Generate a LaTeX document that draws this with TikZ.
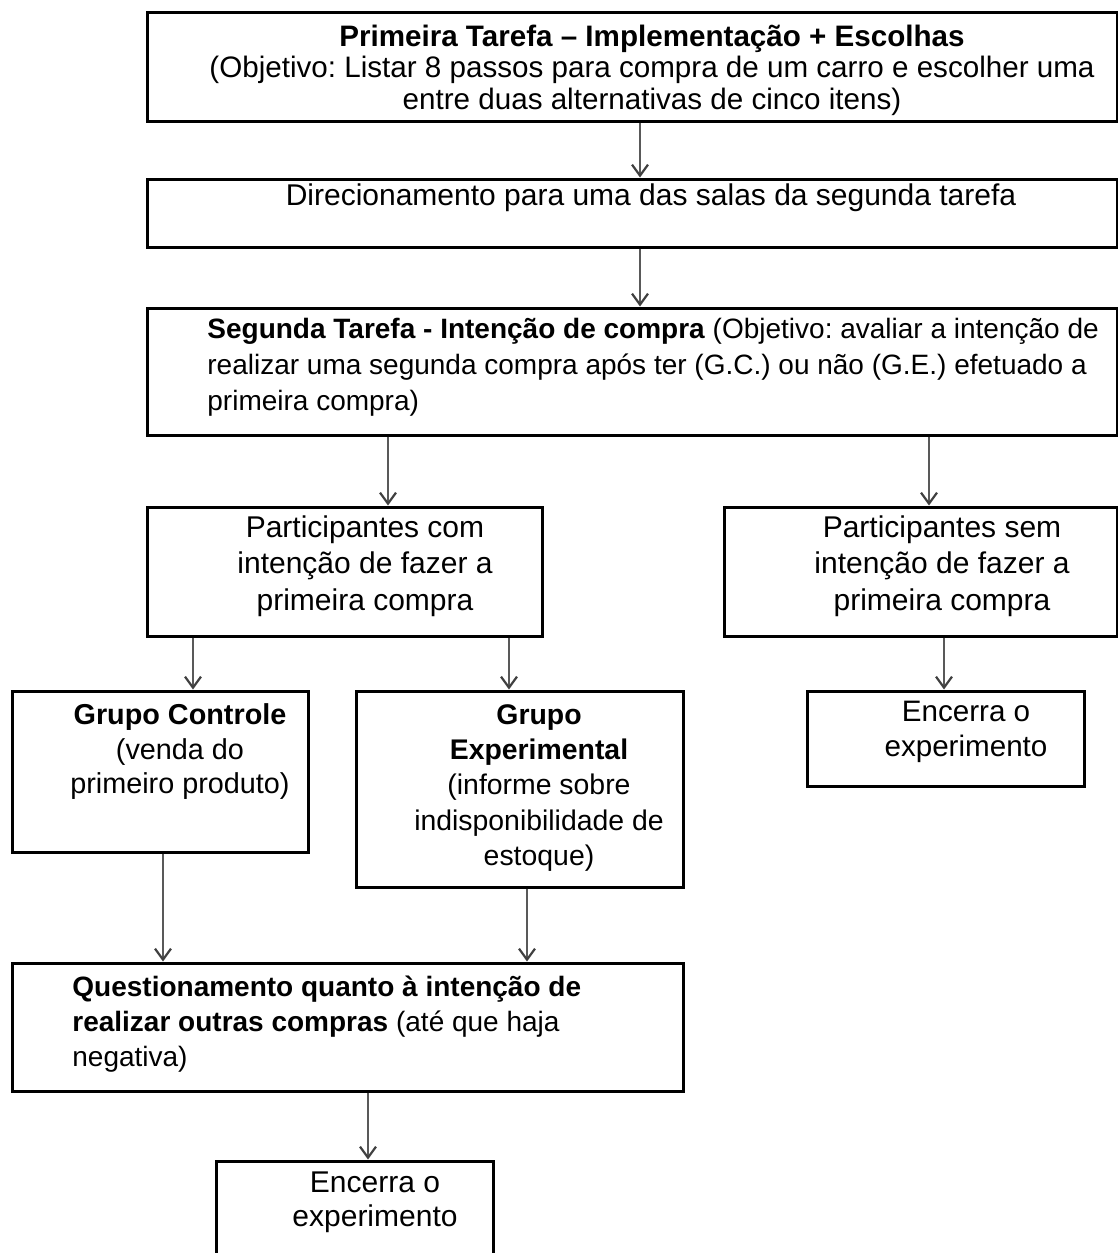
\documentclass[tikz,border=0pt]{standalone}
\usepackage{fontspec}
\setmainfont{Liberation Sans}
\usetikzlibrary{fit,arrows.meta}
\frenchspacing
\begin{document}
\begin{tikzpicture}[x=0.5pt,y=-0.5pt,
  box/.style={draw=black,line width=1.5pt,inner sep=0pt},
  txt/.style={inner sep=0pt},
  arr/.style={draw=black!65,line width=1pt,-{Straight Barb[length=5.5pt,width=8pt,line width=1.1pt,black!75]}}]
\useasboundingbox (0,0) rectangle (1118,1253);
% boxes
\node[box,fit={(147,12)(1117,121)}] (b1) {};
\node[box,fit={(147,179)(1117,247)}] (b2) {};
\node[box,fit={(147,308)(1117,435)}] (b3) {};
\node[box,fit={(147,507)(542,636)}] (b4) {};
\node[box,fit={(724,507)(1117,636)}] (b5) {};
\node[box,fit={(12,691)(308,852)}] (b6) {};
\node[box,fit={(356,691)(683,887)}] (b7) {};
\node[box,fit={(807,691)(1084,786)}] (b8) {};
\node[box,fit={(12,963)(683,1091)}] (b9) {};
\node[box,fit={(216,1161)(493,1262)}] (b10) {};
% texts
\node[txt,align=center,font=\fontsize{14.8}{15.75}\selectfont] (t1) at (652,70)
  {\textbf{Primeira Tarefa – Implementação + Escolhas}\\(Objetivo: Listar 8 passos para compra de um carro e escolher uma\\entre duas alternativas de cinco itens)};
\node[txt,font=\fontsize{15}{15.75}\selectfont] (t2) at (651,198)
  {Direcionamento para uma das salas da segunda tarefa};
\node[txt,align=left,anchor=west,font=\fontsize{14}{18}\selectfont] (t3) at (207,367)
  {\textbf{Segunda Tarefa - Intenção de compra} (Objetivo: avaliar a intenção de\\realizar uma segunda compra após ter (G.C.) ou não (G.E.) efetuado a\\primeira compra)};
\node[txt,align=center,font=\fontsize{15}{18.25}\selectfont] (t4) at (365,566)
  {Participantes com\\intenção de fazer a\\primeira compra};
\node[txt,align=center,font=\fontsize{15}{18.25}\selectfont] (t5) at (942,566)
  {Participantes sem\\intenção de fazer a\\primeira compra};
\node[txt,align=center,font=\fontsize{14.4}{17.25}\selectfont] (t6) at (180,752)
  {\textbf{Grupo Controle}\\(venda do\\primeiro produto)};
\node[txt,align=center,font=\fontsize{14.2}{17.6}\selectfont] (t7) at (539,788)
  {\textbf{Grupo}\\\textbf{Experimental}\\(informe sobre\\indisponibilidade de\\estoque)};
\node[txt,align=center,font=\fontsize{14.8}{17.5}\selectfont] (t8) at (966,732)
  {Encerra o\\experimento};
\node[txt,align=left,anchor=west,font=\fontsize{14}{17.5}\selectfont] (t9) at (72,1024)
  {\textbf{Questionamento quanto à intenção de}\\\textbf{realizar outras compras} (até que haja\\negativa)};
\node[txt,align=center,font=\fontsize{15}{17}\selectfont] (t10) at (375,1202)
  {Encerra o\\experimento};
% arrows
\draw[arr] (b1.south -| 640,0) -- (b2.north -| 640,0);
\draw[arr] (b2.south -| 640,0) -- (b3.north -| 640,0);
\draw[arr] (b3.south -| 388,0) -- (b4.north -| 388,0);
\draw[arr] (b3.south -| 929,0) -- (b5.north -| 929,0);
\draw[arr] (b4.south -| 193,0) -- (b6.north -| 193,0);
\draw[arr] (b4.south -| 509,0) -- (b7.north -| 509,0);
\draw[arr] (b5.south -| 944,0) -- (b8.north -| 944,0);
\draw[arr] (b6.south -| 163,0) -- (b9.north -| 163,0);
\draw[arr] (b7.south -| 527,0) -- (b9.north -| 527,0);
\draw[arr] (b9.south -| 368,0) -- (b10.north -| 368,0);
\end{tikzpicture}
\end{document}
